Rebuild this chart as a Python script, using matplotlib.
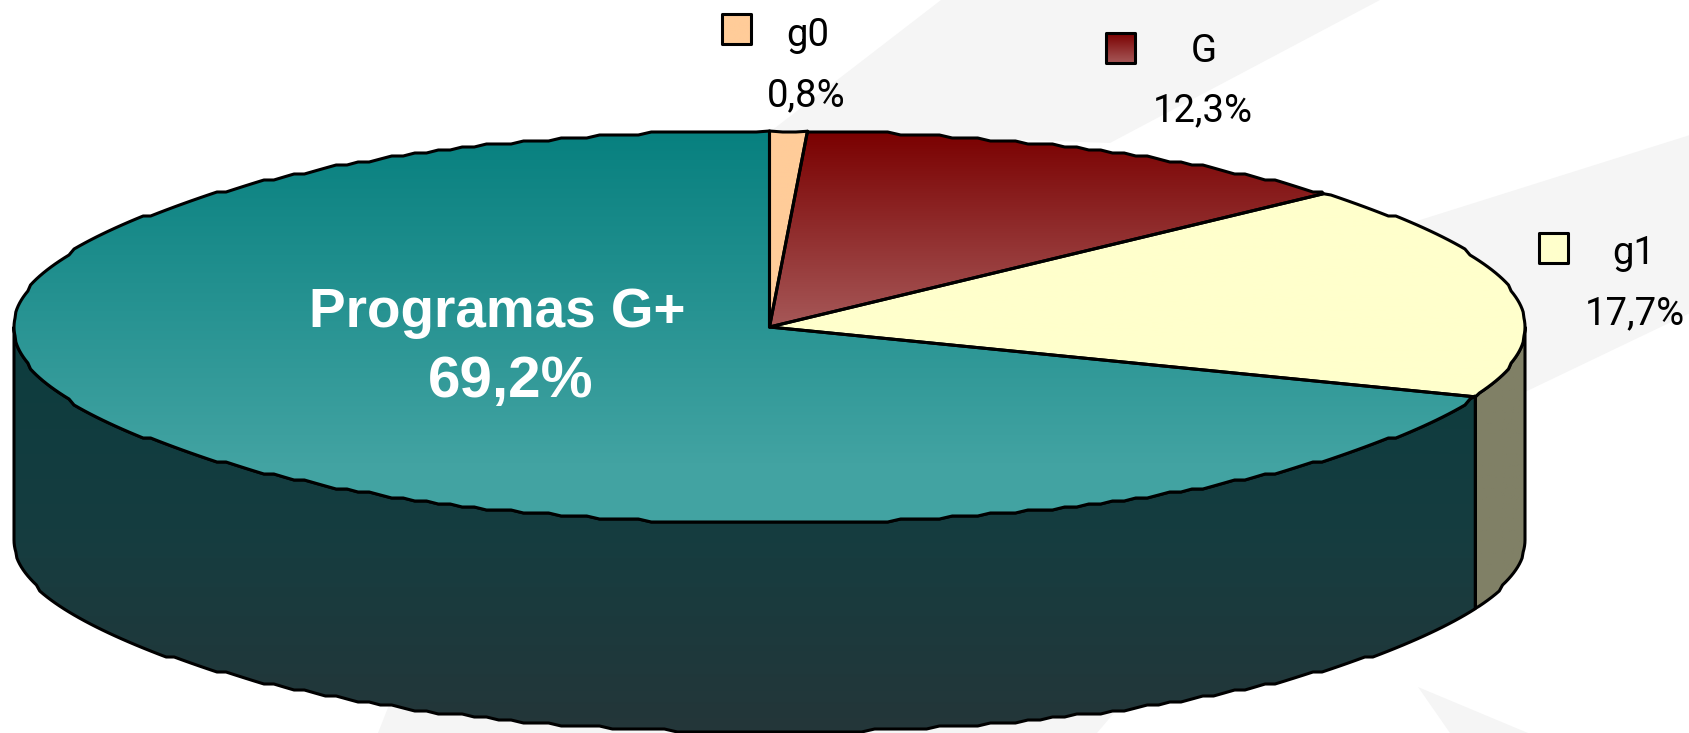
import numpy as np
import matplotlib
matplotlib.use("Agg")
import matplotlib.pyplot as plt
from matplotlib.colors import LinearSegmentedColormap
from matplotlib.patches import Polygon

names = ["g0", "G", "g1", "Programas G+"]
shares = [0.8, 12.3, 17.7, 69.2]
share_labels = ["0,8%", "12,3%", "17,7%", "69,2%"]
top_colors = [
    [(0, "#FFCC99"), (1, "#FFCC99")],
    [(0, "#7A0000"), (1, "#A65858")],
    [(0, "#FFFFCC"), (1, "#FFFFCC")],
    [(0, "#07807F"), (0.85, "#42A3A2"), (1, "#43A4A3")],
]
side_colors = [
    None,
    None,
    [(0, "#808066"), (1, "#808066")],
    [(0, "#0D3C3E"), (0.5, "#153D40"), (1, "#243639")],
]

W, H = 1690, 733
cx, cy, a, b = 769.5, 327, 755.5, 196
low_cy, low_b = 540, 192

fig = plt.figure(figsize=(W / 100, H / 100), dpi=100)
ax = fig.add_axes([0, 0, 1, 1])
ax.set_xlim(0, W)
ax.set_ylim(H, 0)
ax.axis("off")

# faint background swooshes
swooshes = [
    [(771, 131), (941, 0), (1380, 0), (1110, 143)],
    [(1300, 262), (1420, 220), (1690, 135), (1690, 313), (1525, 392)],
    [(389, 705), (378, 733), (1097, 733), (1125, 700)],
    [(1418, 687), (1450, 733), (1528, 733)],
]
for s in swooshes:
    ax.add_patch(Polygon(s, closed=True, fc="#F5F5F5", ec="none", zorder=1))


def rim(t0, t1, yc, bb, step=3.0):
    # the original outline is stair stepped, so snap a coarse angle grid
    lo, hi = min(t0, t1), max(t0, t1)
    grid = np.arange(np.ceil(lo), hi, 1.0)
    grid = grid[grid > lo]
    t = np.radians(grid)
    x = cx + a * np.sin(t)
    y = np.round((yc - bb * np.cos(t)) / step) * step
    ends = np.radians([lo, hi])
    xs = np.r_[cx + a * np.sin(ends[0]), x, cx + a * np.sin(ends[1])]
    ys = np.r_[yc - bb * np.cos(ends[0]), y, yc - bb * np.cos(ends[1])]
    pts = np.column_stack([xs, ys])
    return pts if t0 < t1 else pts[::-1]


def fill(pts, stops, zorder):
    poly = Polygon(pts, closed=True, fc="none", ec="none", zorder=zorder)
    ax.add_patch(poly)
    y0, y1 = pts[:, 1].min(), pts[:, 1].max()
    cmap = LinearSegmentedColormap.from_list("g", stops)
    im = ax.imshow(np.linspace(0, 1, 256)[:, None], cmap=cmap, aspect="auto",
                   extent=(pts[:, 0].min(), pts[:, 0].max(), y1, y0), zorder=zorder)
    im.set_clip_path(poly)
    ax.add_patch(Polygon(pts, closed=True, fc="none", ec="black", lw=2.2, joinstyle="round", zorder=zorder + 0.5))


edges = np.cumsum([0] + shares) * 3.6

# side of the pie, only the front half shows
for i in range(len(shares)):
    t0, t1 = max(edges[i], 90), min(edges[i + 1], 270)
    if t1 <= t0 or side_colors[i] is None:
        continue
    pts = np.vstack([rim(t0, t1, cy, b), rim(t1, t0, low_cy, low_b)])
    fill(pts, side_colors[i], 3)

# top face
for i in range(len(shares)):
    pts = np.vstack([[(cx, cy)], rim(edges[i], edges[i + 1], cy, b)])
    fill(pts, top_colors[i], 5)

# small legend keys and labels
key_x = [722, 1106, 1539]
key_y = [14, 33, 233]
name_pos = [(808, 36), (1204, 51), (1634, 254)]
value_pos = [(806, 96), (1203, 111), (1635, 314)]
thin = ["Roboto", "DejaVu Sans"]
for i in range(3):
    kx, ky = key_x[i], key_y[i]
    pts = np.array([(kx, ky), (kx + 29, ky), (kx + 29, ky + 30), (kx, ky + 30)], dtype=float)
    fill(pts, top_colors[i], 6)
    ax.text(*name_pos[i], names[i], family=thin, fontsize=27.5, ha="center", va="center", color="black", zorder=7)
    ax.text(*value_pos[i], share_labels[i], family=thin, fontsize=27.5, ha="center", va="center", color="black", zorder=7)

ax.text(497, 313, names[3], family="Liberation Sans", weight="bold", fontsize=39.5, color="white",
        ha="center", va="center", zorder=8)
ax.text(511, 382, share_labels[3], family="Liberation Sans", weight="bold", fontsize=42, color="white",
        ha="center", va="center", zorder=8)

ax.set_xlim(0, W)
ax.set_ylim(H, 0)
fig.savefig("out.png", dpi=100, facecolor="white")
